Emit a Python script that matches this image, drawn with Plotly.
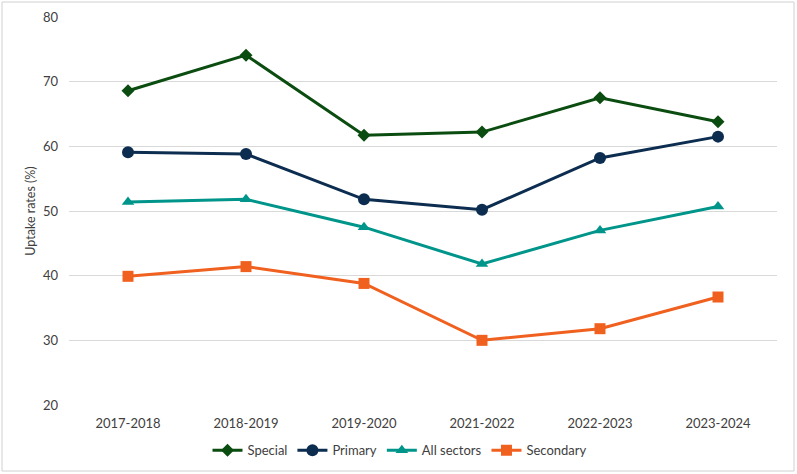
import plotly.graph_objects as go

years = ["2017-2018", "2018-2019", "2019-2020", "2021-2022", "2022-2023", "2023-2024"]
special = [68.6, 74.1, 61.7, 62.2, 67.5, 63.8]
primary = [59.1, 58.8, 51.8, 50.2, 58.2, 61.5]
all_sectors = [51.4, 51.8, 47.5, 41.8, 47.0, 50.7]
secondary = [39.9, 41.4, 38.8, 30.0, 31.8, 36.7]

series = [
    ("Special", special, "#0b4d10", "diamond", 10),
    ("Primary", primary, "#0c2d50", "circle", 12),
    ("All sectors", all_sectors, "#00958a", "triangle-up", 11),
    ("Secondary", secondary, "#f0601f", "square", 11),
]

fig = go.Figure()
for name, vals, color, sym, size in series:
    fig.add_trace(go.Scatter(
        x=years, y=vals, name=name, mode="lines+markers",
        line=dict(color=color, width=3),
        marker=dict(symbol=sym, size=size, color=color),
    ))

W, H = 797, 474
L, R, T, B = 69, 20, 17, 69
pw, ph = W - L - R, H - T - B

fig.update_layout(
    width=W, height=H,
    margin=dict(l=L, r=R, t=T, b=B, autoexpand=False),
    paper_bgcolor="white", plot_bgcolor="white",
    font=dict(family="Lato, 'Open Sans', sans-serif", size=13, color="#404040"),
    showlegend=True,
    legend=dict(orientation="h", x=(400 - L) / pw, xanchor="center", y=-0.078, yanchor="top",
                font=dict(size=13, color="#404040"), itemwidth=30, tracegroupgap=0),
    xaxis=dict(type="category", range=[-0.5, 5.5], showgrid=False, showline=False,
               zeroline=False, ticks="", automargin=False, ticklabelstandoff=9,
               tickfont=dict(size=13, color="#404040")),
    yaxis=dict(range=[20, 80], dtick=10, showgrid=True, gridcolor="#d9d9d9", gridwidth=1,
               showline=False, zeroline=False, ticks="", automargin=False, ticklabelstandoff=10,
               title=dict(text="Uptake rates (%)", font=dict(size=12.5, color="#404040"), standoff=4),
               tickfont=dict(size=13, color="#404040")),
    shapes=[dict(type="rect", xref="paper", yref="paper",
                 x0=(2 - L) / pw, x1=(W - 3 - L) / pw,
                 y0=(T + ph - (H - 3)) / ph,
                 y1=(T + ph - 2) / ph,
                 line=dict(color="#d0d0d0", width=1), layer="below")],
)

fig.write_html("out.html", config={"displayModeBar": False},
               post_script="document.body.style.margin='0';document.body.style.overflow='hidden';")
